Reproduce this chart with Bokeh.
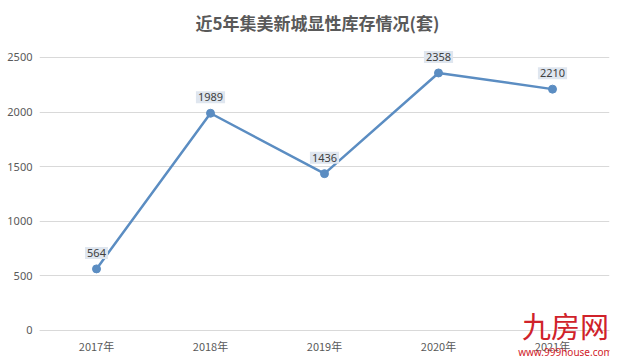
from bokeh.plotting import figure
from bokeh.models import ColumnDataSource, Label, Range1d, FactorRange
from bokeh.core.properties import value
from bokeh.embed import file_html
from bokeh.resources import INLINE

years = ["2017年", "2018年", "2019年", "2020年", "2021年"]
stock = [564, 1989, 1436, 2358, 2210]
y_ticks = [0, 500, 1000, 1500, 2000, 2500]
title = "近5年集美新城显性库存情况(套)"

src = ColumnDataSource(dict(x=years, y=stock, lab=[str(v) for v in stock]))

p = figure(width=617, height=362, x_range=FactorRange(*years), y_range=Range1d(-293, 2701),
           output_backend="svg", toolbar_location=None,
           min_border_left=39, min_border_right=8, min_border_top=35, min_border_bottom=0)
p.outline_line_color = None
p.background_fill_color = "white"
p.border_fill_color = "white"

p.title.text = title
p.title.align = "left"
p.title.offset = 156
p.title.standoff = 2
p.title.text_font = "Noto Sans CJK SC"
p.title.text_font_size = "17px"
p.title.text_font_style = "bold"
p.title.text_color = "#595959"

p.line("x", "y", source=src, line_color="#5b8dc2", line_width=2.5)
p.scatter("x", "y", source=src, size=8, fill_color="#5b8dc2", line_color="#5b8dc2")

p.text("x", "y", text="lab", source=src, y_offset=-16, anchor="center",
       text_font=value("Noto Sans"), text_font_size="11px", text_color="#404040",
       background_fill_color="#dfe6ef", padding=2, border_line_color=None)

p.yaxis.ticker = y_ticks
p.yaxis.axis_line_color = None
p.yaxis.major_tick_line_color = None
p.yaxis.major_tick_out = 0
p.yaxis.major_tick_in = 0
p.yaxis.minor_tick_line_color = None
p.yaxis.major_label_text_font = "Noto Sans"
p.yaxis.major_label_text_font_size = "11px"
p.yaxis.major_label_text_color = "#595959"
p.yaxis.major_label_standoff = 7

p.xaxis.fixed_location = 0
p.xaxis.axis_line_color = "#d9d9d9"
p.xaxis.major_tick_line_color = None
p.xaxis.major_tick_out = 0
p.xaxis.major_tick_in = 0
p.xaxis.major_label_text_font = "Noto Sans CJK SC"
p.xaxis.major_label_text_font_size = "11px"
p.xaxis.major_label_text_color = "#595959"
p.xaxis.major_label_standoff = 8

p.xgrid.grid_line_color = None
p.ygrid.grid_line_color = "#d9d9d9"
p.ygrid.ticker = y_ticks

wm1 = Label(x=526, y=17, x_units="screen", y_units="screen", text="九房网", text_align="center",
            text_font="Noto Sans CJK SC", text_font_size="29px", text_color="#d0222a",
            text_baseline="bottom")
wm2 = Label(x=526, y=4, x_units="screen", y_units="screen", text="www.999house.com",
            text_align="center", text_font="Noto Sans", text_font_size="10px",
            text_color="#d0222a", text_baseline="bottom")
p.add_layout(wm1)
p.add_layout(wm2)

open("out.html", "w").write(file_html(p, INLINE))
